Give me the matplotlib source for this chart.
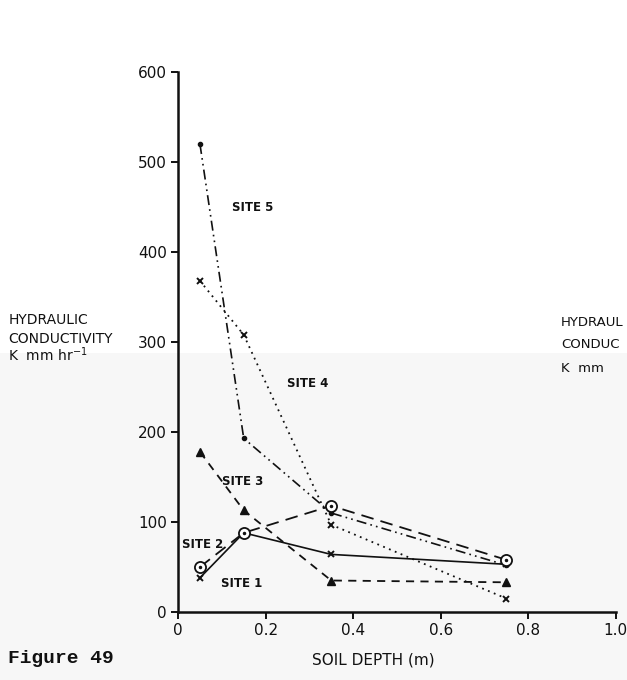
import matplotlib
matplotlib.use("Agg")
import matplotlib.pyplot as plt
from matplotlib.patches import Rectangle

# ---------------- data ----------------
depth = [0.05, 0.15, 0.35, 0.75]
site1 = [38, 88, 64, 53]
site2 = [50, 88, 118, 58]
site3 = [178, 113, 35, 33]
site4 = [368, 308, 97, 15]
site5 = [520, 193, 110, 52]

xticks = [0, 0.2, 0.4, 0.6, 0.8, 1.0]
xticklabels = ["0", "0.2", "0.4", "0.6", "0.8", "1.0"]
yticks = [0, 100, 200, 300, 400, 500, 600]
yticklabels = ["0", "100", "200", "300", "400", "500", "600"]

site_labels = ["SITE 1", "SITE 2", "SITE 3", "SITE 4", "SITE 5"]
label_pos = [(0.098, 32), (0.009, 75), (0.10, 145), (0.248, 254), (0.123, 450)]

# ---------------- figure ----------------
fig = plt.figure(figsize=(6.27, 6.80), dpi=100)
fig.patch.set_facecolor("white")

# faint show-through tint of the scanned page
fig.add_artist(Rectangle((0.0, 0.0), 1.0, 0.481, transform=fig.transFigure,
                         facecolor="#f7f7f7", edgecolor="none", zorder=-10))

ax = fig.add_axes([0.284, 0.10, 0.698, 0.794])
ax.set_facecolor("none")
ax.set_xlim(0, 1.0)
ax.set_ylim(0, 600)

for s in ["top", "right"]:
    ax.spines[s].set_visible(False)
for s in ["left", "bottom"]:
    ax.spines[s].set_linewidth(1.8)
    ax.spines[s].set_color("#111111")

ax.set_xticks(xticks)
ax.set_xticklabels(xticklabels)
ax.set_yticks(yticks)
ax.set_yticklabels(yticklabels)
ax.tick_params(direction="out", length=5, width=1.4, labelsize=11,
               colors="#111111", pad=3)

k = "#111111"
# Site 1: solid, x markers
ax.plot(depth, site1, color=k, lw=1.2, ls="-", marker="x", ms=5, mew=1.4,
        markevery=[0, 2, 3], zorder=3)
# Site 2: long dashes, circled-dot markers
ax.plot(depth, site2, color=k, lw=1.3, ls=(0, (7, 4)), zorder=3)
ax.plot(depth, site2, ls="none", marker="o", ms=8, mfc="white", mec=k, mew=1.3, zorder=4)
ax.plot(depth, site2, ls="none", marker=".", ms=3, color=k, zorder=5)
# Site 3: medium dashes, triangles
ax.plot(depth, site3, color=k, lw=1.3, ls=(0, (4.5, 3.5)), marker="^", ms=6,
        mfc=k, mec=k, zorder=3)
# Site 4: dotted, x markers
ax.plot(depth, site4, color=k, lw=1.3, ls=(0, (1, 2.5)), marker="x", ms=5, mew=1.4, zorder=3)
# Site 5: dash-dot-dot, dots
ax.plot(depth, site5, color=k, lw=1.2, ls=(0, (6, 2.5, 1, 2.5, 1, 2.5)), marker="o",
        ms=3, zorder=3)

for txt, (x, y) in zip(site_labels, label_pos):
    ax.text(x, y, txt, fontsize=8.5, fontweight="bold", color=k,
            ha="left", va="center")

# y-axis label (left, horizontal)
fig.text(0.013, 0.529, "HYDRAULIC", fontsize=10, color=k, ha="left", va="center")
fig.text(0.013, 0.502, "CONDUCTIVITY", fontsize=10, color=k, ha="left", va="center")
fig.text(0.013, 0.479, "K  mm hr$^{-1}$", fontsize=10, color=k, ha="left", va="center")

# partial repeated label at right edge (cut off by the page in the reference)
fig.text(0.895, 0.526, "HYDRAUL", fontsize=9.5, color=k, ha="left", va="center")
fig.text(0.895, 0.493, "CONDUC", fontsize=9.5, color=k, ha="left", va="center")
fig.text(0.895, 0.458, "K  mm", fontsize=9.5, color=k, ha="left", va="center")

# x label and figure caption
fig.text(0.595, 0.030, "SOIL DEPTH (m)", fontsize=11, color=k, ha="center", va="center")
fig.text(0.012, 0.032, "Figure 49", fontsize=14, fontweight="bold",
         family="Liberation Mono", color=k, ha="left", va="center")

fig.savefig("out.png", dpi=100)
